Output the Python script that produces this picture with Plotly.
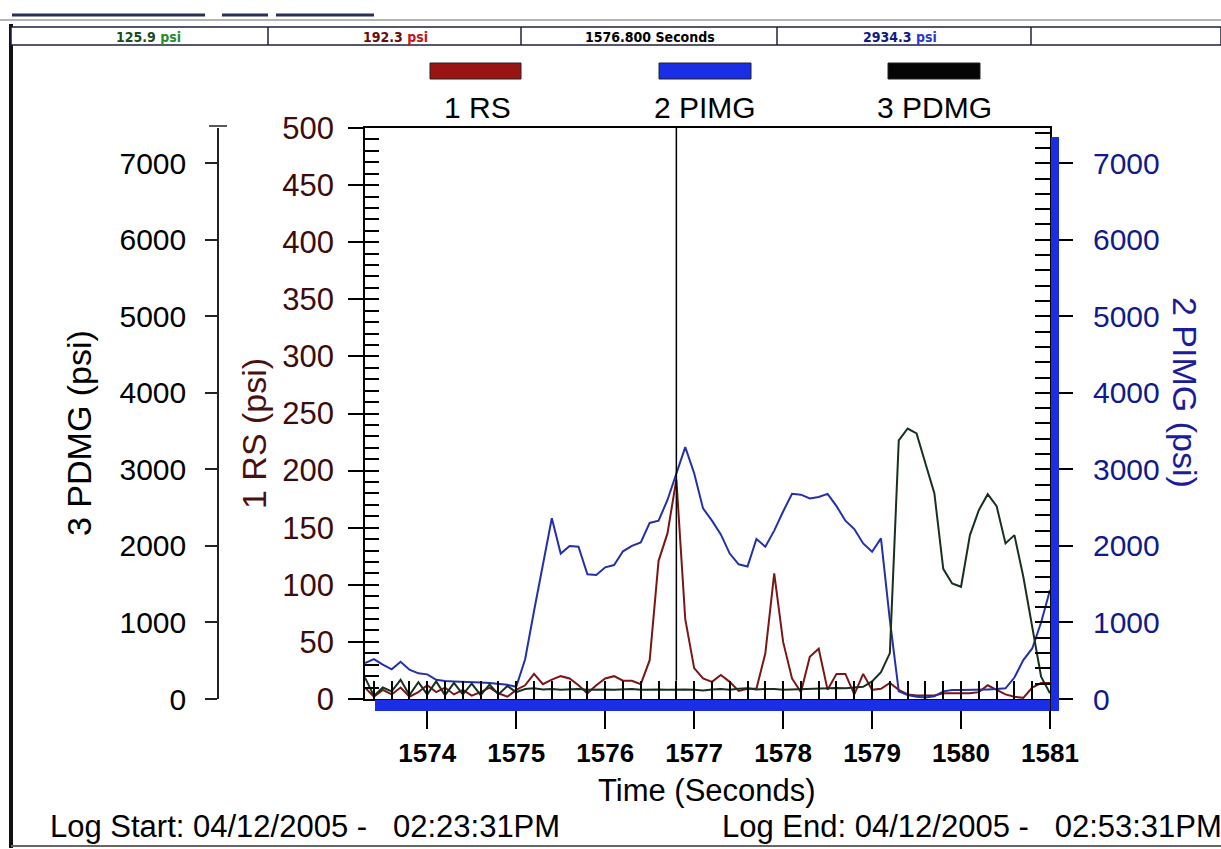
import plotly.graph_objects as go

W, H = 1221, 849

# ---- sampled log (0.1 s interval) ----
t_start = 1573.3
t_step = 0.1

rs_psi = [10, 2, 8, 4, 10, 2, 6, 12, 6, 10,
          4, 8, 3, 6, 10, 5, 2, 8, 12, 22,
          13, 17, 20, 18, 12, 5, 12, 18, 20, 16,
          16, 13, 34, 121, 145, 192.3, 70, 27, 18, 15,
          21, 15, 7, 9, 9, 40, 110, 50, 18, 6,
          37, 44, 8, 22, 22, 4, 22, 8, 9, 14,
          8, 4, 3, 3, 3, 5, 5, 5, 5, 6,
          12, 8, 4, 2, 1, 10, 14, 14]

pimg_psi = [470, 522, 450, 387, 487, 383, 335, 322, 250, 235,
            230, 228, 222, 215, 210, 200, 185, 160, 520, 1150,
            1750, 2362, 1900, 2000, 1990, 1630, 1620, 1720, 1750, 1930,
            2000, 2045, 2300, 2330, 2600, 2934.3, 3290, 2950, 2490, 2330,
            2150, 1900, 1760, 1730, 2090, 1990, 2200, 2450, 2680, 2670,
            2620, 2640, 2680, 2520, 2330, 2220, 2032, 1923, 2098, 1031,
            100, 52, 30, 20, 35, 100, 117, 117, 117, 117,
            125, 130, 140, 280, 509, 660, 1000, 1423]

pdmg_psi = [280, 40, 150, 100, 250, 50, 220, 60, 230, 50,
            210, 60, 200, 50, 190, 60, 170, 90, 130, 140,
            125, 130, 120, 125, 130, 120, 125, 125, 120, 125,
            130, 120, 125, 125, 120, 125.9, 125, 120, 110, 125,
            130, 120, 135, 140, 125, 130, 130, 120, 125, 130,
            130, 135, 140, 145, 140, 150, 160, 230, 350, 600,
            3380, 3534, 3470, 3077, 2690, 1700, 1510, 1466, 2141, 2467,
            2676, 2520, 2033, 2141, 1597, 944, 291, 74]

time_s = [round(t_start + t_step * i, 1) for i in range(len(rs_psi))]

cursor_time = 1576.8
x_ticks = [1574, 1575, 1576, 1577, 1578, 1579, 1580, 1581]

log_start = "Log Start: 04/12/2005 -   02:23:31PM"
log_end = "Log End: 04/12/2005 -   02:53:31PM"

RS_COLOR = "#7a1616"
PIMG_COLOR = "#2330a8"
PDMG_COLOR = "#17301f"
RS_TEXT = "#3d0b0b"
PIMG_TEXT = "#101a8c"
BAR_BLUE = "#1a2ee6"

FONT = "Liberation Sans, Arial, Helvetica, sans-serif"


def px(x):
    return x / W


def py(y):
    return 1 - y / H


X_DOM = [px(365), px(1050)]
Y_DOM = [py(699), py(128)]
RS_RANGE = [0, 500]
P_RANGE = [0, 7460]

fig = go.Figure()

fig.add_trace(go.Scatter(x=time_s, y=pimg_psi, mode="lines", name="2 PIMG",
                         line=dict(color=PIMG_COLOR, width=2), yaxis="y2"))
fig.add_trace(go.Scatter(x=time_s, y=rs_psi, mode="lines", name="1 RS",
                         line=dict(color=RS_COLOR, width=2), yaxis="y"))
fig.add_trace(go.Scatter(x=time_s, y=pdmg_psi, mode="lines", name="3 PDMG",
                         line=dict(color=PDMG_COLOR, width=2), yaxis="y3"))

# empty traces that carry the extra tick-only axes
fig.add_trace(go.Scatter(x=[], y=[], xaxis="x2", yaxis="y", hoverinfo="skip"))
fig.add_trace(go.Scatter(x=[], y=[], xaxis="x", yaxis="y4", hoverinfo="skip"))
fig.add_trace(go.Scatter(x=[], y=[], xaxis="x", yaxis="y5", hoverinfo="skip"))

common = dict(showgrid=False, zeroline=False, automargin=False)

fig.update_layout(
    template="none",
    width=W, height=H, autosize=False,
    margin=dict(l=0, r=0, t=0, b=0, pad=0),
    paper_bgcolor="white", plot_bgcolor="white",
    showlegend=False,
    font=dict(family=FONT, size=28, color="black"),
    xaxis=dict(domain=X_DOM, range=[t_start, x_ticks[-1]], anchor="y",
               tickvals=x_ticks, ticktext=[f"<b>{v}</b>" for v in x_ticks],
               ticks="outside", ticklen=28, tickwidth=1.5, tickcolor="black",
               showline=True, linecolor="black", linewidth=1.5, mirror=True,
               tickfont=dict(size=26, color="black"), ticklabelstandoff=2,
               **common),
    xaxis2=dict(domain=X_DOM, range=[t_start, x_ticks[-1]], overlaying="x",
                anchor="y", side="bottom", tick0=1574, dtick=0.2,
                ticks="inside", ticklen=18, tickwidth=1.5, tickcolor="black",
                showticklabels=False, showline=False, **common),
    yaxis=dict(domain=Y_DOM, range=RS_RANGE, anchor="x", dtick=50,
               ticks="outside", ticklen=15, tickwidth=1.5, tickcolor="black",
               showline=True, linecolor="black", linewidth=1.5, mirror=True,
               tickfont=dict(size=31, color=RS_TEXT), ticklabelstandoff=8,
               **common),
    yaxis4=dict(domain=Y_DOM, range=RS_RANGE, overlaying="y", anchor="x",
                side="left", dtick=10, ticks="inside", ticklen=14,
                tickwidth=1.5, tickcolor="black", showticklabels=False,
                showline=False, **common),
    yaxis2=dict(domain=Y_DOM, range=P_RANGE, overlaying="y", anchor="x",
                side="right", dtick=1000, ticks="outside", ticklen=22,
                tickwidth=1.5, tickcolor="black", showline=False,
                tickfont=dict(size=30, color=PIMG_TEXT), ticklabelstandoff=14,
                **common),
    yaxis5=dict(domain=Y_DOM, range=P_RANGE, overlaying="y", anchor="x",
                side="right", dtick=200, ticks="inside", ticklen=15,
                tickwidth=1.5, tickcolor="black", showticklabels=False,
                showline=False, **common),
    yaxis3=dict(domain=Y_DOM, range=P_RANGE, overlaying="y", anchor="free",
                position=px(218), side="left", dtick=1000, ticks="outside",
                ticklen=12, tickwidth=1.5, tickcolor="#222",
                showline=True, linecolor="#222", linewidth=1.5,
                tickfont=dict(size=30, color="black"), ticklabelstandoff=13,
                **common),
)

shapes = []


def line(x0, y0, x1, y1, color="black", width=1.5):
    shapes.append(dict(type="line", xref="paper", yref="paper",
                       x0=px(x0), y0=py(y0), x1=px(x1), y1=py(y1),
                       line=dict(color=color, width=width)))


def rect(x0, y0, x1, y1, fill, color="black", width=1):
    shapes.append(dict(type="rect", xref="paper", yref="paper",
                       x0=px(x0), y0=py(y0), x1=px(x1), y1=py(y1),
                       fillcolor=fill, line=dict(color=color, width=width)))


# window frame
line(11, 24, 11, 848, "#111", 4)
line(11, 846, 1221, 846, "#666", 2)
line(0, 20, 1221, 20, "#9a9aa8", 1.5)
for a, b in [(12, 140), (140, 205), (222, 268), (276, 374)]:
    line(a, 15, b, 15, "#2a2f5a", 3)

# status bar
rect(11, 27, 1221, 45, "white", "#1f2140", 1.5)
for xd in [268, 521, 777, 1031]:
    line(xd, 27, xd, 45, "#1f2140", 1.5)

# legend swatches
rect(430, 63, 521, 79, "#9b1414", "#222", 1)
rect(659, 63, 751, 79, BAR_BLUE, "#222", 1)
rect(888, 63, 980, 79, "#050505", "#222", 1)

# blue scroll bars along the plot
rect(375, 700, 1050, 711, BAR_BLUE, BAR_BLUE, 0)
rect(1051, 137, 1059, 711, BAR_BLUE, BAR_BLUE, 0)

# top cap of the PDMG axis
line(209, 126, 227, 126, "#222", 1.5)

# cursor
shapes.append(dict(type="line", xref="x", yref="y", x0=cursor_time, x1=cursor_time,
                   y0=16, y1=RS_RANGE[1], line=dict(color="black", width=1.5)))

fig.update_layout(shapes=shapes)

idx = time_s.index(cursor_time)

ann = []


def text(x, y, s, size=28, color="black", xanchor="center", angle=0, family=FONT):
    ann.append(dict(x=px(x), y=py(y), xref="paper", yref="paper", text=s,
                    showarrow=False, xanchor=xanchor, yanchor="middle",
                    textangle=angle, font=dict(family=family, size=size, color=color)))


NARROW = "Liberation Sans Narrow, DejaVu Sans Condensed, Arial Narrow, sans-serif"
text(148, 37, f"<b>{pdmg_psi[idx]:.1f} <span style='color:#2a8a2a'>psi</span></b>", 14,
     "#1b4d1b", family=NARROW)
text(395, 37, f"<b>{rs_psi[idx]:.1f} <span style='color:#c41414'>psi</span></b>", 14,
     "#6a0c0c", family=NARROW)
text(650, 37, f"<b>{cursor_time:.3f} Seconds</b>", 14, "black", family=NARROW)
text(900, 37, f"<b>{pimg_psi[idx]:.1f} <span style='color:#2a3ad0'>psi</span></b>", 14,
     "#0f1a80", family=NARROW)

# legend labels
text(477, 107, "1 RS", 30)
text(705, 107, "2 PIMG", 30)
text(935, 107, "3 PDMG", 30)

# axis titles
text(79, 433, "3 PDMG (psi)", 34, "black", angle=-90)
text(254, 434, "1 RS (psi)", 34, "#4a1010", angle=-90)
text(1185, 392, "2 PIMG (psi)", 34, "#1c1c9a", angle=90)
text(707, 790, "Time (Seconds)", 31)

text(48, 826, log_start, 31, xanchor="left")
text(720, 826, log_end, 31, xanchor="left")

fig.update_layout(annotations=ann)

fig.write_html("out.html")
